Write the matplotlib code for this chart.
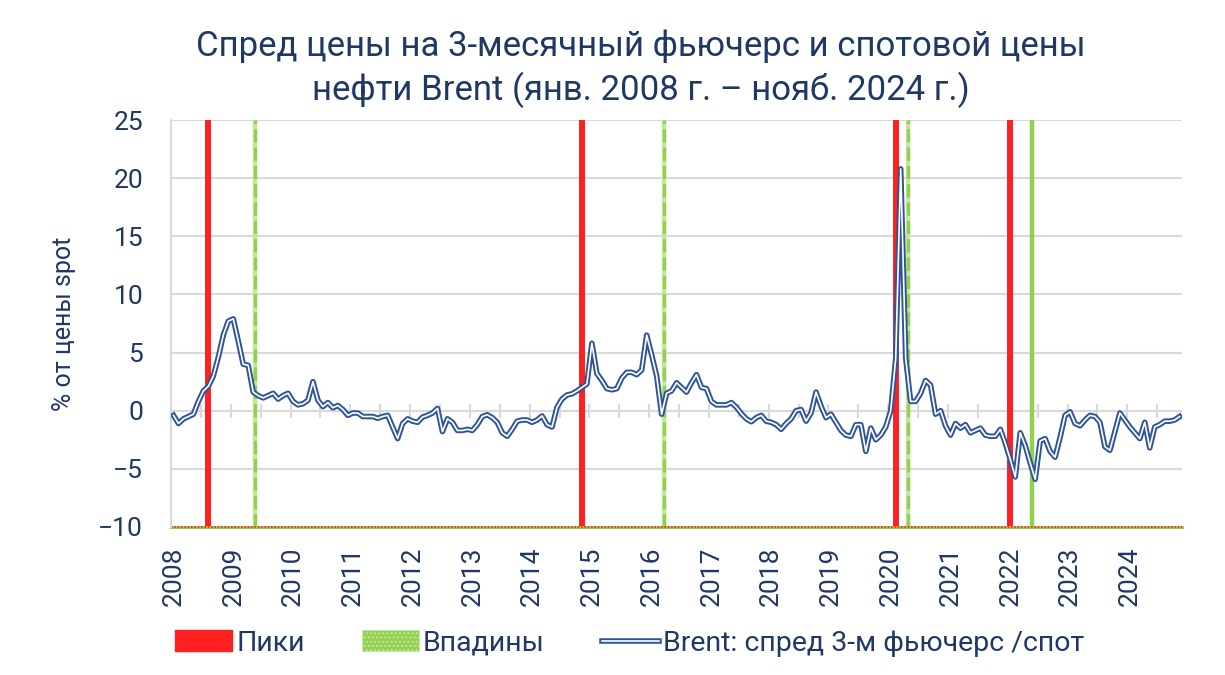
import numpy as np
import pandas as pd
import matplotlib
matplotlib.use('Agg')
import matplotlib.pyplot as plt
from matplotlib.patches import Patch
from matplotlib.lines import Line2D
from matplotlib.legend_handler import HandlerTuple

plt.rcParams['font.family'] = ['Roboto', 'DejaVu Sans']

# monthly dates, Jan 2008 .. Nov 2024
months = pd.date_range('2008-01-01', '2024-11-01', freq='MS')

# Brent: 3-month futures vs spot spread, % of spot price
spread = [
    -0.4, -1.1, -0.7, -0.5, -0.3, 0.8, 1.7, 2.1, 3.0, 4.6, 6.5, 7.7,        # 2008
    7.9, 6.0, 4.0, 3.9, 1.6, 1.3, 1.1, 1.3, 1.5, 1.0, 1.3, 1.5,             # 2009
    0.8, 0.5, 0.6, 0.9, 2.5, 0.9, 0.35, 0.7, 0.25, 0.45, 0.1, -0.4,         # 2010
    -0.2, -0.2, -0.5, -0.5, -0.5, -0.65, -0.5, -0.4, -1.4, -2.4, -1.1, -0.7,  # 2011
    -0.9, -1.0, -0.55, -0.4, -0.2, 0.2, -1.8, -0.7, -1.0, -1.7, -1.7, -1.6,   # 2012
    -1.7, -1.2, -0.5, -0.35, -0.6, -1.0, -1.9, -2.2, -1.6, -0.9, -0.8, -0.8,  # 2013
    -1.0, -0.8, -0.45, -1.2, -1.4, 0.3, 1.0, 1.35, 1.45, 1.7, 2.0, 2.3,     # 2014
    5.8, 3.2, 2.6, 1.9, 1.8, 1.9, 2.8, 3.3, 3.3, 3.1, 3.5, 6.5,             # 2015
    4.8, 3.0, -0.3, 1.5, 1.7, 2.4, 2.0, 1.6, 2.4, 3.1, 2.0, 1.9,            # 2016
    0.8, 0.5, 0.5, 0.5, 0.7, 0.3, -0.25, -0.7, -0.95, -0.6, -0.4, -0.9,     # 2017
    -1.0, -1.2, -1.6, -1.1, -0.7, 0.0, 0.1, -0.9, -0.2, 1.6, 0.4, -0.6,     # 2018
    -0.3, -1.0, -1.7, -2.1, -2.2, -1.2, -1.2, -3.5, -1.5, -2.5, -2.1, -1.4,  # 2019
    0.0, 4.5, 20.8, 4.5, 0.8, 0.8, 1.5, 2.6, 2.2, -0.3, 0.0, -1.3,          # 2020
    -2.1, -1.1, -1.5, -1.2, -1.9, -1.7, -1.5, -2.1, -2.2, -2.2, -1.6, -2.8,  # 2021
    -4.2, -5.7, -1.9, -3.0, -4.5, -5.9, -2.6, -2.4, -3.5, -4.0, -2.3, -0.4,  # 2022
    -0.1, -1.1, -1.3, -0.8, -0.4, -0.5, -1.0, -3.1, -3.4, -1.8, -0.2, -0.8,  # 2023
    -1.4, -1.9, -2.4, -1.0, -3.2, -1.4, -1.2, -0.9, -0.9, -0.8, -0.5,       # 2024
]

peaks = ['2008-08', '2014-11', '2020-02', '2022-01']
troughs = ['2009-05', '2016-03', '2020-04']
troughs_solid = ['2022-05']

years = list(range(2008, 2025))

title = ('Спред цены на 3-месячный фьючерс и спотовой цены\n'
         'нефти Brent (янв. 2008 г. – нояб. 2024 г.)')
navy = '#1F3864'
blue = '#2F5597'
red = '#FF2020'
green = '#92D050'
grid_c = '#D9D9D9'


def pos(d):
    return months.get_loc(pd.Timestamp(d))


x = np.arange(len(months))

fig = plt.figure(figsize=(12.25, 6.75), dpi=100)
ax = fig.add_axes([0.1396, 0.2193, 0.8254, 0.6029])

ax.set_ylim(-10, 25)
ax.set_xlim(-0.5, len(months) - 0.5)
ax.set_yticks(range(-10, 26, 5))
ax.yaxis.grid(True, color=grid_c, lw=1.5)
ax.set_axisbelow(True)
for s in ['top', 'right', 'bottom']:
    ax.spines[s].set_visible(False)
ax.spines['left'].set_color(grid_c)
ax.spines['left'].set_linewidth(1.5)

# small tick marks on the zero line, every 6 months
ticks6 = np.arange(-0.5, len(months), 6)
ax.vlines(ticks6, -0.6, 0.6, color=grid_c, lw=1.5, zorder=1)

# peaks and troughs
for d in peaks:
    ax.axvline(pos(d), color=red, lw=4.3, zorder=2)
for d in troughs:
    ax.axvline(pos(d) + 0.4, color='#C6E6A0', lw=3.2, zorder=2)
    ax.axvline(pos(d) + 0.4, color=green, lw=2.4, dashes=(4, 1.5), zorder=2)
for d in troughs_solid:
    ax.axvline(pos(d) + 0.4, color=green, lw=3.2, zorder=2)

ax.axhline(-10, color=green, lw=2.2, zorder=2, clip_on=False)
ax.axhline(-10, color=red, lw=1.2, dashes=(1, 1), zorder=2, clip_on=False)

# double line
ax.plot(x, spread, color=blue, lw=4.0, zorder=3, solid_joinstyle='round')
ax.plot(x, spread, color='white', lw=1.2, zorder=4, solid_joinstyle='round')

ax.set_xticks([pos(f'{y}-01') for y in years])
ax.set_xticklabels([str(y) for y in years], rotation=90, fontsize=19, color=navy)
ax.tick_params(axis='x', length=0, pad=14)
ax.tick_params(axis='y', length=0, pad=20, labelsize=19, labelcolor=navy)

ax.set_ylabel('% от цены spot', fontsize=18, color=navy, labelpad=16)

fig.text(0.523, 0.898, title, ha='center', va='center', fontsize=25,
         color=navy, linespacing=1.3)

h_red = Patch(facecolor=red, edgecolor=red)
h_green = Patch(facecolor=green, edgecolor='#C6E6A0', hatch='....', lw=0.5)
h_line = (Line2D([], [], color=blue, lw=4.0), Line2D([], [], color='white', lw=1.2))
leg = fig.legend([h_red, h_green, h_line],
                 ['Пики', 'Впадины', 'Brent: спред 3-м фьючерс /спот'],
                 handler_map={tuple: HandlerTuple(ndivide=1, pad=0)},
                 loc='center', bbox_to_anchor=(0.514, 0.047), ncol=3,
                 frameon=False, fontsize=20.5, handlelength=2.0, handleheight=0.75,
                 handletextpad=0.15, columnspacing=2.0)
for t in leg.get_texts():
    t.set_color(navy)

fig.savefig('out.png', dpi=100)
